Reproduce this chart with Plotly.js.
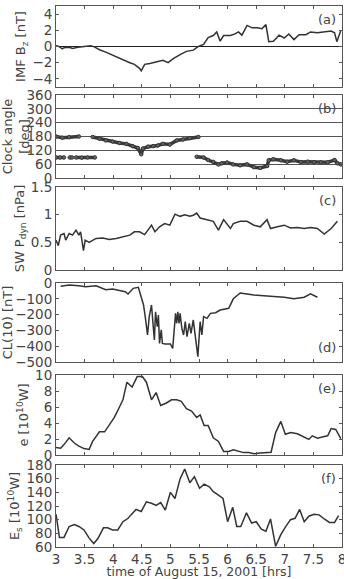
<!DOCTYPE html>
<html><head><meta charset="utf-8">
<script src="https://cdn.plot.ly/plotly-3.0.1.min.js"></script>
<style>html,body{margin:0;padding:0;background:#fff}#c{width:344px;height:579px}</style>
</head><body><div id="c"></div>
<script>
// (a) IMF Bz [nT]
const bzT = [3.0,3.05,3.11,3.14,3.23,3.29,3.38,3.46,3.61,3.67,3.76,3.87,3.99,4.11,4.20,4.29,4.37,4.46,4.49,4.55,4.64,4.75,4.87,4.96,5.05,5.17,5.28,5.40,5.49,5.58,5.66,5.75,5.81,5.87,5.93,6.05,6.13,6.19,6.25,6.34,6.43,6.52,6.60,6.67,6.72,6.80,6.90,6.99,7.07,7.16,7.25,7.37,7.45,7.57,7.69,7.81,7.87,7.91,7.98];
const bzV = [0.1,0.0,-0.3,-0.15,-0.1,-0.25,-0.1,0.0,0.1,-0.05,-0.4,-0.7,-1.1,-1.4,-1.8,-2.0,-2.2,-2.7,-3.0,-2.2,-2.1,-1.9,-1.7,-2.0,-1.5,-1.0,-0.6,-0.45,0.0,0.25,1.1,1.35,1.8,0.65,1.35,1.35,1.55,1.8,1.4,2.6,2.3,2.3,2.2,2.7,0.6,0.65,1.4,1.05,1.55,0.85,1.45,1.45,1.8,1.7,1.8,1.9,1.7,0.6,2.0];

// (b) Clock angle [deg]  (null = gap)
const caT = [3.0,3.11,3.23,3.40,null,3.64,3.76,3.87,3.99,4.11,4.23,4.34,4.43,4.49,4.52,4.61,4.70,4.78,4.87,4.99,5.11,5.22,5.34,5.49];
const caV = [180,175,177,180,null,178,170,163,158,152,148,138,130,103,128,136,138,141,148,145,163,167,173,178];
const ca2T = [3.0,3.07,3.14,null,3.24,3.28,null,3.35,3.45,3.55,3.68,null,5.46,5.58,5.66,5.75,5.84,5.90,5.99,6.10,6.22,6.34,6.46,6.57,6.69,6.72,6.80,6.93,7.04,7.16,7.28,7.40,7.51,7.63,7.75,7.87,7.92,7.98];
const ca2V = [89,89,89,null,89,89,null,89,88,89,89,null,92,89,78,70,59,64,67,59,55,59,47,44,52,77,81,77,71,77,69,71,69,68,68,78,64,59];

// (c) SW Pdyn [nPa]
const pdT = [3.0,3.04,3.08,3.14,3.17,3.23,3.29,3.35,3.40,3.43,3.48,3.51,3.58,3.70,3.82,3.93,4.05,4.17,4.29,4.37,4.46,4.55,4.67,4.73,4.81,4.90,4.99,5.08,5.17,5.25,5.34,5.40,5.46,5.52,5.64,5.75,5.84,5.93,6.05,6.10,6.22,6.34,6.46,6.57,6.69,6.75,6.87,6.99,7.10,7.22,7.34,7.45,7.57,7.69,7.81,7.92];
const pdV = [0.54,0.44,0.63,0.66,0.54,0.66,0.63,0.72,0.63,0.69,0.35,0.54,0.5,0.57,0.58,0.55,0.57,0.6,0.63,0.69,0.69,0.64,0.81,0.69,0.78,0.84,0.81,1.01,0.97,1.0,0.97,0.99,1.03,0.94,0.91,0.88,0.72,0.91,0.75,0.84,0.88,0.88,0.81,0.78,0.91,0.75,0.78,0.81,0.76,0.77,0.75,0.77,0.75,0.65,0.75,0.88];

// (d) CL(10) [nT]
const clT = [3.08,3.23,3.40,3.52,3.70,3.79,3.87,3.99,4.11,4.21,4.26,4.35,4.44,4.50,4.53,4.56,4.60,4.63,4.67,4.70,4.72,4.74,4.77,4.79,4.81,4.84,4.86,4.91,5.00,5.04,5.05,5.09,5.11,5.13,5.15,5.17,5.20,5.23,5.26,5.29,5.33,5.36,5.40,5.44,5.48,5.52,5.55,5.58,5.64,5.70,5.79,5.87,6.02,6.10,6.22,6.34,6.46,6.63,6.80,6.99,7.16,7.34,7.45,7.57];
const clV = [-21,-13,-17,-23,-17,-28,-42,-38,-48,-55,-70,-34,-27,-108,-139,-213,-329,-213,-139,-276,-361,-182,-276,-203,-382,-297,-382,-386,-386,-414,-361,-192,-255,-182,-255,-192,-287,-329,-245,-340,-255,-319,-234,-371,-466,-245,-329,-213,-224,-192,-188,-171,-160,-100,-63,-69,-76,-80,-84,-90,-100,-90,-69,-90];

// (e) e [10^10 W]
const eT = [3.0,3.08,3.14,3.23,3.32,3.40,3.49,3.58,3.64,3.76,3.85,3.93,4.02,4.11,4.17,4.24,4.33,4.42,4.51,4.58,4.67,4.75,4.83,4.93,5.02,5.11,5.19,5.28,5.37,5.46,5.52,5.59,5.66,5.75,5.84,5.93,6.02,6.10,6.19,6.28,6.37,6.46,6.57,6.69,6.76,6.84,6.93,7.01,7.10,7.22,7.34,7.42,7.48,7.57,7.69,7.75,7.81,7.89,7.98];
const eV = [0.95,0.85,1.3,2.15,1.5,1.1,0.8,0.7,1.7,2.9,2.9,3.7,4.7,6.0,6.9,9.1,8.5,9.8,9.8,9.1,6.9,7.8,6.2,6.5,6.9,6.9,6.7,5.8,5.5,4.7,5.0,3.7,3.7,2.15,1.7,0.45,0.45,0.65,0.5,0.3,0.3,0.15,0.25,0.3,0.35,2.8,4.2,2.6,2.8,2.65,2.25,1.95,2.4,2.1,2.3,2.4,3.3,3.2,2.05];

// (f) Es [10^10 W]
const esT = [3.0,3.06,3.14,3.23,3.32,3.40,3.49,3.58,3.66,3.73,3.83,3.90,3.99,4.08,4.17,4.26,4.31,4.40,4.49,4.58,4.67,4.75,4.83,4.91,5.00,5.08,5.17,5.25,5.34,5.42,5.51,5.59,5.68,5.75,5.84,5.92,6.00,6.09,6.16,6.23,6.33,6.42,6.50,6.59,6.67,6.75,6.84,6.93,7.01,7.10,7.18,7.26,7.34,7.42,7.51,7.60,7.69,7.78,7.87,7.94];
const esV = [108,74,74,90,93,90,85,73,65,72,88,88,85,85,97,102,107,115,112,126,124,121,125,114,140,131,160,174,154,163,146,152,148,141,136,131,97,118,90,90,110,95,97,86,83,101,61,78,89,100,102,115,97,105,108,107,101,96,96,106];

const yTitles = ['IMF B<sub>z</sub> [nT]','Clock angle<br>[deg]','SW P<sub>dyn</sub> [nPa]','CL(10) [nT]','e [10<sup>10</sup>W]','E<sub>s</sub> [10<sup>10</sup>W]'];
const panelTags = ['(a)','(b)','(c)','(d)','(e)','(f)'];
const xTicks = [3,3.5,4,4.5,5,5.5,6,6.5,7,7.5,8];
const xTickText = ['3','3.5','4','4.5','5','5.5','6','6.5','7','7.5','8'];

const H = 579, MT = 5, MB = 32;
const ph = H - MT - MB;
function dom(top, bot){ return [(H-MB-bot)/ph, (H-MB-top)/ph]; }
const panels = [
  {top:6, bot:87, range:[-5,5], tickvals:[-4,-2,0,2,4]},
  {top:95, bot:178, range:[0,360], tickvals:[0,60,120,180,240,300,360]},
  {top:187, bot:270, range:[0,1.5], tickvals:[0,0.5,1,1.5]},
  {top:283, bot:362, range:[-500,0], tickvals:[-500,-400,-300,-200,-100,0]},
  {top:375, bot:455, range:[0,10], tickvals:[0,2,4,6,8,10]},
  {top:465, bot:547, range:[60,180], tickvals:[60,80,100,120,140,160,180]}
];

const col = '#333';
const lineSty = {color: col, width: 1.5};
const caSty = {color:'#3a3a3a', width:3.5};
const caMk = {size:3.5, color:'#666', line:{color:'#333', width:1}};
const traces = [
  {x: bzT, y: bzV, xaxis:'x', yaxis:'y', mode:'lines', line: lineSty},
  {x: caT, y: caV, xaxis:'x2', yaxis:'y2', mode:'lines+markers', line: caSty, marker: caMk},
  {x: ca2T, y: ca2V, xaxis:'x2', yaxis:'y2', mode:'lines+markers', line: caSty, marker: caMk},
  {x: pdT, y: pdV, xaxis:'x3', yaxis:'y3', mode:'lines', line: lineSty},
  {x: clT, y: clV, xaxis:'x4', yaxis:'y4', mode:'lines', line: lineSty},
  {x: eT, y: eV, xaxis:'x5', yaxis:'y5', mode:'lines', line: lineSty},
  {x: esT, y: esV, xaxis:'x6', yaxis:'y6', mode:'lines', line: lineSty}
];

const font = {family:'DejaVu Sans, sans-serif', size:12, color:'#444'};
const layout = {
  width:344, height:579, margin:{l:56, r:2, t:MT, b:MB},
  paper_bgcolor:'#fff', plot_bgcolor:'#fff', showlegend:false, font: font,
  annotations: []
};
panels.forEach((p,i)=>{
  const n = i===0 ? '' : String(i+1);
  const last = i===5;
  layout['xaxis'+n] = {
    range:[3,8], anchor:'y'+n, tickvals:xTicks, ticktext:xTickText,
    showticklabels:last, ticklabeloverflow:'allow', ticks:'inside', ticklen:3, tickcolor:'#555',
    showline:true, mirror:'ticks', linecolor:'#555', linewidth:1,
    showgrid:false, zeroline:false, tickfont:{size:13.5, color:'#444'},
    title: last ? {text:'time of August 15, 2001 [hrs]', font:{size:12.5, color:'#444'}, standoff:1} : {text:''}
  };
  if (i>0) layout['xaxis'+n].matches = 'x';
  layout['yaxis'+n] = {
    domain: dom(p.top, p.bot), range:p.range, anchor:'x'+n, tickvals:p.tickvals,
    ticklabeloverflow:'allow',
    ticks:'inside', ticklen:3, tickcolor:'#555', showline:true, mirror:'ticks',
    linecolor:'#555', linewidth:1, tickfont:{size:13.5, color:'#444'},
    showgrid: i===1, gridcolor:'#555', gridwidth:1,
    zeroline: i===0, zerolinecolor:'#222', zerolinewidth:1.5,
    title:{text:yTitles[i], font:{size:13, color:'#444'}, standoff: i===1 ? 1 : 3}
  };
  layout.annotations.push({
    text: panelTags[i], xref:'x'+n+' domain', yref:'y'+n+' domain',
    x:0.985, y: i===3 ? 0.06 : 0.95, xanchor:'right', yanchor: i===3 ? 'bottom' : 'top',
    showarrow:false, font:{size:13, color:'#444'}
  });
});

Plotly.newPlot('c', traces, layout, {displayModeBar:false, staticPlot:true});
</script></body></html>
